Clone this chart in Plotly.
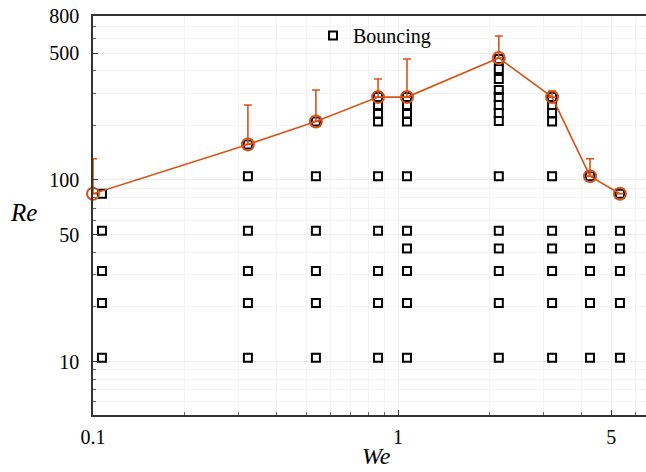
import plotly.graph_objects as go

# ---- data ----
we_cols = [0.107, 0.322, 0.538, 0.86, 1.07, 2.14, 3.2, 4.26, 5.34]
re_cols = [
    [10.5, 21, 31.5, 52.5, 84],
    [10.5, 21, 31.5, 52.5, 105, 157],
    [10.5, 21, 31.5, 52.5, 105, 210],
    [10.5, 21, 31.5, 52.5, 105, 210, 231, 259, 286],
    [10.5, 21, 31.5, 42, 52.5, 105, 210, 231, 259, 286],
    [10.5, 21, 31.5, 42, 52.5, 105, 211, 234, 259, 286, 313, 360, 408, 464],
    [10.5, 21, 31.5, 42, 52.5, 105, 210, 234, 259, 286],
    [10.5, 21, 31.5, 42, 52.5, 105],
    [10.5, 21, 31.5, 42, 52.5, 84],
]
thr_we = [0.1, 0.322, 0.538, 0.86, 1.07, 2.14, 3.2, 4.26, 5.34]
thr_re = [84, 157, 210, 286, 286, 470, 286, 105, 84]
thr_err_up = [47, 102, 103, 74, 178, 151, 23, 26, 0]

x_ticks = [0.1, 1, 5]
x_ticklabels = ["0.1", "1", "5"]
y_ticks = [10, 50, 100, 500, 800]
y_ticklabels = ["10", "50", "100", "500", "800"]

bx, by = [], []
for w, col in zip(we_cols, re_cols):
    for r in col:
        bx.append(w)
        by.append(r)

ORANGE = "#D95319"
FONT = "Liberation Serif, Tinos, Times New Roman, DejaVu Serif, serif"

fig = go.Figure()
fig.add_trace(go.Scatter(
    x=bx, y=by, mode="markers", name="Bouncing",
    marker=dict(symbol="square-open", size=8, color="black", line=dict(width=2, color="black")),
    cliponaxis=False,
))
fig.add_trace(go.Scatter(
    x=thr_we, y=thr_re, mode="lines+markers", showlegend=False,
    line=dict(color=ORANGE, width=1.6),
    marker=dict(symbol="circle-open", size=12, color=ORANGE, line=dict(width=2, color=ORANGE)),
    error_y=dict(type="data", symmetric=False, array=thr_err_up, arrayminus=[0]*len(thr_err_up),
                 color=ORANGE, thickness=1.6, width=4),
    cliponaxis=False,
))

minor_x = [0.2, 0.3, 0.4, 0.5, 0.6, 0.7, 0.8, 0.9, 2, 3, 4, 6]
minor_y = [6, 7, 8, 9, 20, 30, 40, 60, 70, 80, 90, 200, 300, 400, 600, 700]

fig.update_xaxes(
    type="log", range=[-1, 0.813], automargin=False,
    tickmode="array", tickvals=x_ticks, ticktext=x_ticklabels,
    ticks="inside", ticklen=5, tickcolor="#333",
    showline=True, linecolor="#333", linewidth=1.5, mirror=True,
    showgrid=True, gridcolor="#ededed", gridwidth=1,
    minor=dict(tickmode="array", tickvals=minor_x, ticks="inside", ticklen=3,
               tickcolor="#666", showgrid=True, gridcolor="#f3f3f3"),
    tickfont=dict(family=FONT, size=20, color="black"),
    ticklabelstandoff=3,
    zeroline=False,
)
fig.update_yaxes(
    type="log", range=[0.706, 2.903], automargin=False,
    tickmode="array", tickvals=y_ticks, ticktext=y_ticklabels,
    ticks="inside", ticklen=5, tickcolor="#333",
    showline=True, linecolor="#333", linewidth=1.5,
    showgrid=True, gridcolor="#ededed", gridwidth=1,
    minor=dict(tickmode="array", tickvals=minor_y, ticks="inside", ticklen=3,
               tickcolor="#666", showgrid=True, gridcolor="#f3f3f3"),
    tickfont=dict(family=FONT, size=20, color="black"),
    ticklabelstandoff=8,
    zeroline=False,
)

fig.add_annotation(text="<i>Re</i>", x=23, y=213, xref="paper", yref="paper",
                   xanchor="center", yanchor="middle",
                   showarrow=False, font=dict(family=FONT, size=25, color="black"))
fig.add_annotation(text="<i>We</i>", x=376, y=456, xref="paper", yref="paper",
                   xanchor="center", yanchor="middle",
                   showarrow=False, font=dict(family=FONT, size=24, color="black"))

W, H = 646, 472
L, R, T, B = 93, 0, 16, 57
pw, ph = W - L - R, H - T - B
# convert pixel annotation positions to paper coords
for ann in fig.layout.annotations:
    ann.x = (ann.x - L) / pw
    ann.y = 1 - (ann.y - T) / ph

fig.update_layout(
    width=W, height=H,
    margin=dict(l=L, r=R, t=T, b=B, pad=0, autoexpand=False),
    paper_bgcolor="white", plot_bgcolor="white",
    font=dict(family=FONT, size=18, color="black"),
    legend=dict(x=(313 - L) / pw, y=1.0, xanchor="left", yanchor="top",
                bgcolor="rgba(0,0,0,0)", font=dict(family=FONT, size=20, color="black")),
)

fig.write_html(
    "out.html",
    config={"displayModeBar": False},
    post_script="document.body.style.margin='0';document.body.style.padding='0';",
)
